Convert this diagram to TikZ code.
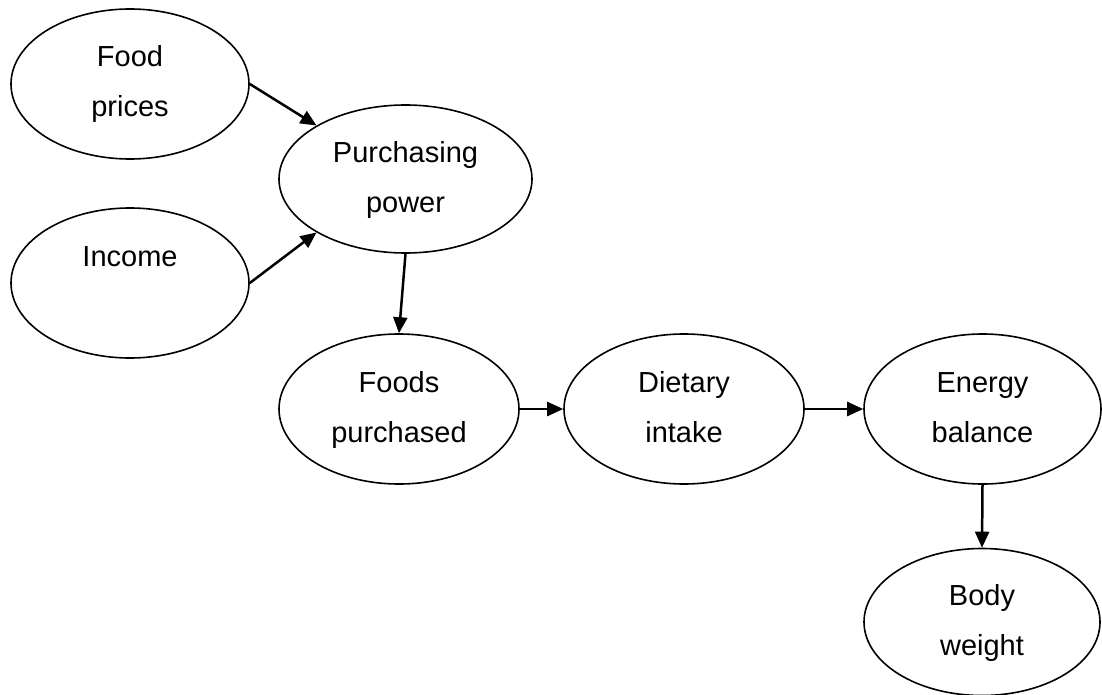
\documentclass[tikz,border=0pt]{standalone}
\usepackage{fontspec}
\setmainfont{Liberation Sans}
\usetikzlibrary{shapes.geometric,arrows.meta}
% invisible strut that gives every text line the same height and depth
\newcommand\tstrut{\rule[-7pt]{0pt}{30pt}}
\begin{document}
\begin{tikzpicture}[x=1pt,y=-1pt,
  bubble/.style={ellipse,draw,line width=1.6pt,inner sep=0pt,align=center,
    font=\fontsize{29}{50}\selectfont},
  link/.style={line width=2.5pt,-{Triangle[length=16pt,width=14pt]}}]
  \fill[white] (0,0) rectangle (1102,695);
  \useasboundingbox (0,0) rectangle (1102,695);

  \node[bubble,minimum width=238pt,minimum height=150pt] (prices) at (130,84) {Food\tstrut\\prices\tstrut};
  \node[bubble,minimum width=238pt,minimum height=150pt] (income) at (130,283) {Income\tstrut\\\tstrut};
  \node[bubble,minimum width=253pt,minimum height=148pt] (power) at (405.5,179) {Purchasing\tstrut\\power\tstrut};
  \node[bubble,minimum width=240pt,minimum height=150pt] (bought) at (399,409) {Foods\tstrut\\purchased\tstrut};
  \node[bubble,minimum width=240pt,minimum height=150pt] (intake) at (684,409) {Dietary\tstrut\\intake\tstrut};
  \node[bubble,minimum width=237pt,minimum height=150pt] (energy) at (982.5,409) {Energy\tstrut\\balance\tstrut};
  \node[bubble,minimum width=236pt,minimum height=147pt] (weight) at (982,622) {Body\tstrut\\weight\tstrut};

  \draw[link] (prices.east) -- (power.149);
  \draw[link] (income.east) -- (power.211);
  \draw[link] (power.south) -- (bought.north);
  \draw[link] (bought.east) -- (intake.west);
  \draw[link] (intake.east) -- (energy.west);
  \draw[link] (energy.south) -- (weight.north);
\end{tikzpicture}
\end{document}
